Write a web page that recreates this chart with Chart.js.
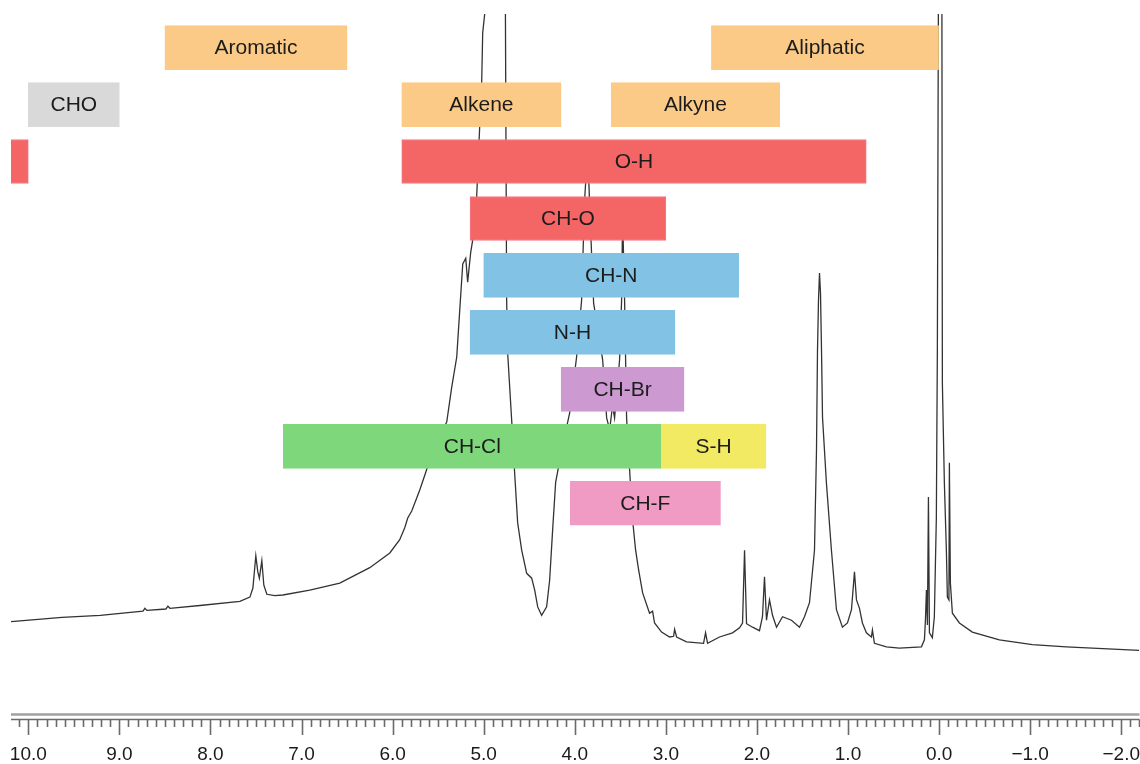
<!DOCTYPE html>
<html>

<head>
    <title>NMR shift ranges</title>
    <meta charset="utf-8">
    <script src="https://cdn.jsdelivr.net/npm/chart.js@4.4.0/dist/chart.umd.min.js"></script>
    <style>
        body {
            background: #fff;
            margin: 0;
        }

        .wrap {
            width: 1140px;
            height: 764px;
            position: relative;
        }
    </style>
</head>

<body>
    <div class="wrap">
        <canvas id="nmr-Chart"></canvas>
    </div>
    <script>
        // Spectrum trace (chemical shift in ppm, relative intensity)
        var shiftPpm = [
            10.19, 9.63, 9.21, 8.741, 8.72, 8.698, 8.489, 8.467, 8.445, 8.116,
            7.677, 7.567, 7.534, 7.502, 7.480, 7.463, 7.436, 7.414, 7.381, 7.293,
            7.205, 6.909, 6.580, 6.251, 6.031, 5.922, 5.867, 5.834, 5.790, 5.702,
            5.647, 5.538, 5.406, 5.351, 5.296, 5.263, 5.230, 5.197, 5.176, 5.143,
            5.121, 5.077, 5.044, 5.022, 5.011, 4.989, 4.879, 4.764, 4.748, 4.737,
            4.693, 4.660, 4.627, 4.583, 4.528, 4.473, 4.440, 4.407, 4.364, 4.309,
            4.276, 4.243, 4.210, 4.144, 4.056, 3.980, 3.925, 3.892, 3.859, 3.826,
            3.793, 3.694, 3.650, 3.617, 3.585, 3.563, 3.508, 3.486, 3.475, 3.453,
            3.431, 3.398, 3.365, 3.332, 3.299, 3.255, 3.179, 3.146, 3.124, 3.047,
            2.959, 2.915, 2.904, 2.882, 2.773, 2.586, 2.564, 2.542, 2.411, 2.268,
            2.191, 2.158, 2.136, 2.114, 2.048, 1.972, 1.939, 1.917, 1.895, 1.862,
            1.829, 1.785, 1.719, 1.621, 1.533, 1.478, 1.423, 1.368, 1.346, 1.335,
            1.324, 1.313, 1.302, 1.291, 1.280, 1.237, 1.182, 1.127, 1.061, 1.006,
            0.962, 0.929, 0.907, 0.874, 0.842, 0.798, 0.743, 0.732, 0.710, 0.578,
            0.436, 0.194, 0.161, 0.150, 0.139, 0.128, 0.117, 0.106, 0.074, 0.052,
            0.030, 0.019, 0.008, -0.009, -0.031, -0.036, -0.058, -0.080, -0.091, -0.108,
            -0.113, -0.124, -0.146, -0.223, -0.365, -0.662, -1.024, -1.397, -2.198
        ];
        var intensity = [
            13.2, 13.8, 14.1, 14.7, 15.1, 14.8, 15.0, 15.4, 15.1, 15.5,
            16.1, 16.7, 18.0, 22.6, 20.3, 19.4, 21.9, 18.4, 17.1, 16.9,
            17.0, 17.7, 18.7, 20.9, 23.0, 24.9, 26.6, 28.0, 29.0, 32.0,
            34.1, 38.4, 41.7, 46.7, 51.0, 57.7, 64.3, 65.1, 61.7, 65.9,
            67.7, 73.9, 83.9, 90.3, 97.3, 100.0, 216.0, 107.7, 59.1, 51.6,
            42.0, 34.4, 27.3, 23.4, 20.1, 19.4, 17.7, 15.3, 14.1, 15.3,
            19.1, 26.3, 33.1, 37.7, 43.0, 51.0, 59.1, 73.4, 80.6, 69.1,
            58.7, 50.6, 42.3, 40.6, 44.1, 42.3, 50.6, 59.1, 71.3, 59.1,
            42.3, 34.9, 27.7, 23.4, 20.6, 17.3, 14.4, 14.7, 13.0, 11.7,
            11.0, 11.1, 12.1, 11.0, 10.3, 10.1, 11.6, 10.1, 11.0, 11.6,
            12.3, 13.0, 23.4, 12.9, 12.4, 11.9, 13.9, 19.6, 13.4, 16.3,
            14.1, 12.4, 13.9, 13.4, 12.4, 13.9, 15.9, 23.4, 37.7, 52.0,
            59.1, 63.0, 60.1, 52.0, 42.4, 33.0, 23.4, 14.9, 12.4, 13.0,
            14.9, 20.3, 16.3, 15.1, 13.0, 11.6, 11.0, 12.0, 10.1, 9.6,
            9.4, 9.6, 10.6, 13.4, 17.7, 12.7, 31.0, 11.6, 10.9, 13.9,
            28.1, 52.0, 100.0, 216.0, 100.0, 47.3, 33.0, 23.4, 16.7, 16.3,
            35.9, 18.7, 14.4, 13.0, 11.7, 10.6, 9.9, 9.6, 9.1
        ];

        // Shift ranges of the proton groups
        var groupLabels = ['Aromatic', 'Aliphatic', 'CHO', 'Alkene', 'Alkyne', 'O-H', 'O-H',
            'CH-O', 'CH-N', 'N-H', 'CH-Br', 'CH-Cl', 'S-H', 'CH-F'];
        var groupStart = [8.5, 2.5, 10.0, 5.9, 3.6, 5.9, 12.0, 5.15, 5.0, 5.15, 4.15, 7.2, 3.05, 4.05];
        var groupEnd = [6.5, 0.0, 9.0, 4.15, 1.75, 0.8, 10.0, 3.0, 2.2, 2.9, 2.8, 3.05, 1.9, 2.4];
        var groupLane = [1, 1, 2, 2, 2, 3, 3, 4, 5, 6, 7, 8, 8, 9];

        var tickValues = [10, 9, 8, 7, 6, 5, 4, 3, 2, 1, 0, -1, -2];

        var groupColors = {
            'Aromatic': '#fbca86', 'Aliphatic': '#fbca86', 'Alkene': '#fbca86', 'Alkyne': '#fbca86',
            'CHO': '#d9d9d9', 'O-H': '#f46566', 'CH-O': '#f46566',
            'CH-N': '#82c2e4', 'N-H': '#82c2e4', 'CH-Br': '#cc9ad1',
            'CH-Cl': '#7ed87b', 'S-H': '#f1ea62', 'CH-F': '#f09bc4'
        };
        var edgeColors = {
            'O-H': '#f27a86', 'CH-O': '#f27a86'
        };

        var spectrum = shiftPpm.map((p, i) => ({ x: p, y: intensity[i] }));
        var ranges = groupLabels.map((g, i) => ({ x: [groupStart[i], groupEnd[i]], y: groupLane[i] }));

        // ruler style axis with 0.1 ppm minor ticks
        var rulerAxis = {
            id: 'rulerAxis',
            afterDraw(chart) {
                const ctx = chart.ctx;
                const sx = chart.scales.x;
                const top = chart.chartArea.bottom;
                ctx.save();
                ctx.strokeStyle = '#a0a0a0';
                ctx.lineWidth = 2.5;
                ctx.beginPath();
                ctx.moveTo(sx.left, top + 0.5);
                ctx.lineTo(sx.right, top + 0.5);
                ctx.stroke();
                ctx.strokeStyle = '#6a6a6a';
                ctx.lineWidth = 1.5;
                ctx.beginPath();
                ctx.moveTo(sx.left, top + 5.5);
                ctx.lineTo(sx.right, top + 5.5);
                ctx.stroke();
                ctx.lineWidth = 1.6;
                for (let k = Math.ceil(sx.min * 10); k <= Math.floor(sx.max * 10); k++) {
                    const px = Math.round(sx.getPixelForValue(k / 10)) + 0.5;
                    const major = k % 10 === 0;
                    ctx.beginPath();
                    ctx.moveTo(px, top + 5.5);
                    ctx.lineTo(px, top + (major ? 21 : 13));
                    ctx.stroke();
                }
                ctx.restore();
            }
        };

        // group names written in the middle of each bar
        var barLabels = {
            id: 'barLabels',
            afterDatasetsDraw(chart) {
                const ctx = chart.ctx;
                const area = chart.chartArea;
                const meta = chart.getDatasetMeta(0);
                ctx.save();
                ctx.font = '21px "Liberation Sans", Arial, sans-serif';
                ctx.fillStyle = '#1c1c1c';
                ctx.textAlign = 'center';
                ctx.textBaseline = 'middle';
                meta.data.forEach((bar, i) => {
                    const p = bar.getProps(['x', 'y', 'base'], true);
                    const cx = (p.x + p.base) / 2;
                    if (cx < area.left || cx > area.right) return;
                    ctx.fillText(groupLabels[i], cx, p.y + 1);
                });
                ctx.restore();
            }
        };

        var nmrChart = new Chart(document.getElementById('nmr-Chart'), {
            data: {
                datasets: [{
                    type: 'bar',
                    data: ranges,
                    indexAxis: 'y',
                    xAxisID: 'x',
                    yAxisID: 'lane',
                    barThickness: 44,
                    backgroundColor: groupLabels.map(g => groupColors[g]),
                    borderColor: groupLabels.map(g => edgeColors[g] || groupColors[g]),
                    borderWidth: 1,
                    borderSkipped: false,
                    order: 0
                }, {
                    type: 'line',
                    data: spectrum,
                    xAxisID: 'x',
                    yAxisID: 'y',
                    borderColor: '#333',
                    borderWidth: 1.3,
                    pointRadius: 0,
                    tension: 0,
                    order: 1
                }]
            },
            options: {
                responsive: true,
                maintainAspectRatio: false,
                animation: false,
                layout: { padding: { top: 14, left: 11, right: 0, bottom: 0 } },
                plugins: {
                    legend: { display: false },
                    tooltip: { enabled: false }
                },
                scales: {
                    x: {
                        type: 'linear',
                        position: 'bottom',
                        reverse: true,
                        offset: false,
                        min: -2.2,
                        max: 10.19,
                        afterBuildTicks: (scale) => {
                            scale.ticks = tickValues.map(v => ({ value: v }));
                        },
                        border: { display: false },
                        grid: {
                            drawOnChartArea: false,
                            drawTicks: true,
                            tickLength: 31,
                            tickColor: 'rgba(0,0,0,0)'
                        },
                        ticks: {
                            padding: 0,
                            autoSkip: false,
                            maxRotation: 0,
                            color: '#1a1a1a',
                            font: { family: '"Liberation Sans", Arial, sans-serif', size: 19, lineHeight: 1 },
                            callback: (v) => v.toFixed(1).replace('-', '\u2212')
                        }
                    },
                    y: {
                        type: 'linear',
                        display: false,
                        min: 0,
                        max: 100
                    },
                    lane: {
                        type: 'linear',
                        axis: 'y',
                        position: 'left',
                        display: false,
                        offset: false,
                        reverse: true,
                        min: 0.41,
                        max: 12.7
                    }
                }
            },
            plugins: [rulerAxis, barLabels]
        });
    </script>
</body>

</html>
